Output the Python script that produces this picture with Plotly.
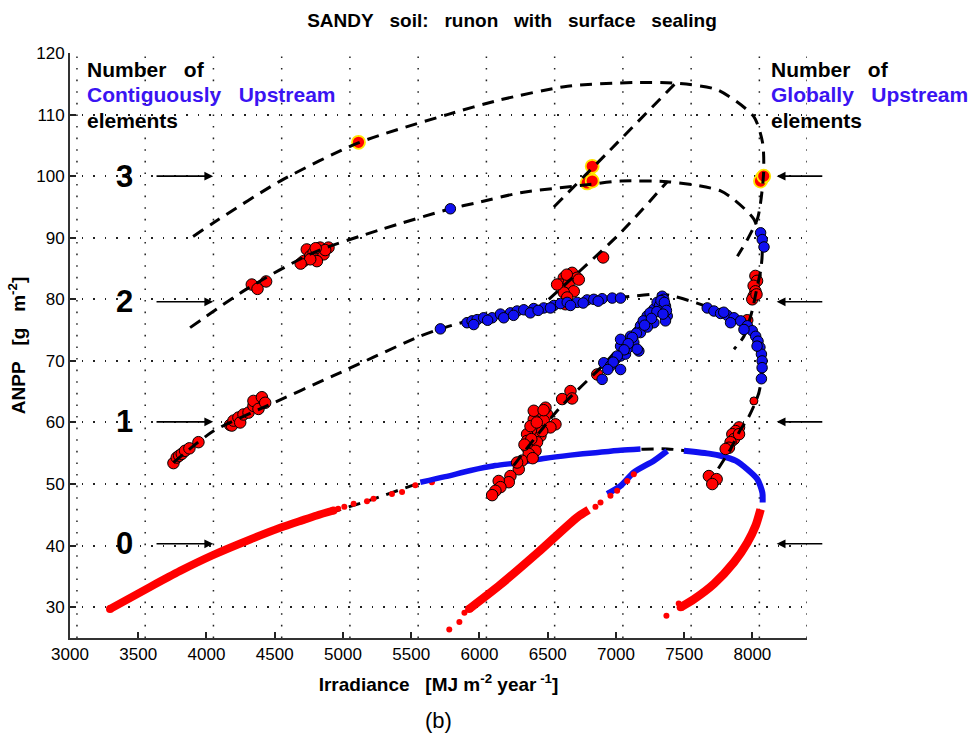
import plotly.graph_objects as go

# ---------------- data ----------------
# level-0 dense small-dot bands
band_left_x = [3293, 3587, 3807, 4051, 4320, 4540, 4700, 4809, 4931]
band_left_y = [29.7, 33.3, 35.9, 38.5, 41.0, 42.9, 44.1, 44.9, 45.7]
sparse_red_x = [4965, 5010, 5078, 5176, 5224, 5359, 5433, 5530, 5652]
sparse_red_y = [46.0, 46.3, 46.8, 47.2, 47.6, 48.4, 48.7, 49.8, 50.3]
arch_left_x = [5567, 5750, 5934, 6117, 6300, 6484, 6667, 6850, 7034, 7180]
arch_left_y = [50.3, 51.2, 52.2, 53.0, 53.5, 54.2, 54.7, 55.1, 55.5, 55.7]
arch_right_x = [7498, 7694, 7767, 7877, 7962, 8036, 8073, 8075]
arch_right_y = [55.4, 54.9, 54.6, 53.8, 52.4, 50.8, 48.6, 47.0]
band_right_x = [8060, 8023, 7963, 7865, 7718, 7571, 7474]
band_right_y = [45.9, 43.2, 40.5, 37.3, 33.8, 31.3, 30.0]
band_mid_x = [5924, 6150, 6429, 6716, 6800]
band_mid_y = [29.7, 33.6, 38.9, 44.6, 45.8]
mid_blue_x = [6936, 7034, 7131, 7278, 7376]
mid_blue_y = [48.4, 49.7, 51.9, 53.8, 55.4]
mid_red_dots_x = [6850, 6887, 6960, 7009, 7083, 7131]
mid_red_dots_y = [46.3, 47.0, 48.1, 48.9, 50.5, 51.6]
lone_red_x = [5779, 5853, 5890, 7370, 7460]
lone_red_y = [26.4, 27.6, 29.1, 28.6, 30.6]

# big red circles (black edge)
red_l2_left_x = [4332, 4374, 4437, 4711, 4735, 4760, 4785, 4809, 4833, 4858, 4894, 4809, 4760, 4870, 4800, 4690]
red_l2_left_y = [82.4, 81.7, 82.9, 86.2, 88.1, 87.0, 87.6, 86.8, 88.4, 87.3, 88.4, 86.2, 86.5, 88.0, 88.3, 85.8]
red_l2_mid_x = [6618, 6679, 6594, 6655, 6716, 6691, 6618, 6643, 6630, 6728, 6569, 6640, 6906]
red_l2_mid_y = [83.5, 84.3, 82.4, 82.7, 83.5, 81.3, 81.1, 80.3, 79.2, 83.2, 82.4, 84.0, 86.8]
red_l2_right_x = [8022, 8034, 8009, 8022, 8009, 7999, 8030, 7962]
red_l2_right_y = [83.8, 83.0, 82.2, 81.3, 80.5, 80.0, 80.8, 76.6]
red_l1_left_x = [3758, 3782, 3800, 3819, 3843, 3875, 3941, 4173, 4186, 4198, 4234, 4247, 4271, 4308, 4344, 4344, 4381, 4406, 4430]
red_l1_left_y = [53.4, 54.3, 54.6, 54.9, 55.4, 55.8, 56.8, 59.6, 59.5, 60.3, 60.8, 60.0, 61.3, 61.6, 62.7, 63.5, 62.2, 64.1, 63.2]
red_l1_mid_x = [6434, 6496, 6398, 6471, 6557, 6411, 6520, 6349, 6447, 6349, 6422, 6349, 6411, 6361, 6312, 6288, 6227,
                6215, 6141, 6154, 6117, 6093, 6484, 6398, 6374, 6276, 6606, 6667, 6679, 6863,
                6380, 6460, 6330, 6420, 6390, 6470]
red_l1_mid_y = [61.3, 61.3, 60.5, 60.3, 59.7, 58.9, 59.2, 58.1, 57.8, 57.0, 56.8, 55.9, 55.4, 54.9, 53.8, 52.4, 51.3,
                50.3, 50.5, 49.5, 48.9, 48.2, 62.4, 61.9, 59.4, 53.5, 63.8, 65.1, 63.9, 67.8,
                57.3, 58.6, 56.4, 60.0, 54.2, 62.0]
red_l1_right_x = [7902, 7877, 7853, 7865, 7840, 7828, 7804, 7902, 7681, 7738, 7706]
red_l1_right_y = [59.2, 58.6, 58.1, 57.3, 56.8, 55.9, 55.7, 58.1, 51.3, 50.8, 50.0]
red_small_x = [8011]
red_small_y = [63.5]

# red circles with yellow edge
yel_x = [5114, 6826, 6814, 6789, 6826, 8071, 8059, 8083]
yel_y = [105.5, 101.6, 99.5, 98.9, 99.2, 99.7, 99.2, 100.0]

# big blue circles (black edge)
blue_l2_x = [5787, 8060, 8072, 8085]
blue_l2_y = [94.7, 90.8, 89.7, 88.5]
blue_l1_arch_x = [5714, 5909, 5946, 5983, 6031, 6093, 6154, 6227, 6276, 6325, 6398, 6471, 6545, 6594, 6643, 6716,
                  6789, 6838, 6899, 6973, 7034, 5958, 6178, 6373, 6667, 6060, 6250, 6430, 6520, 6760, 6870]
blue_l1_arch_y = [75.2, 76.2, 76.5, 76.7, 77.0, 77.0, 77.6, 77.8, 78.1, 78.3, 78.5, 78.6, 79.0, 79.3, 79.5, 79.5,
                  79.9, 80.0, 80.1, 80.2, 80.2, 75.9, 77.0, 77.8, 79.0, 76.6, 77.4, 78.2, 78.6, 79.4, 79.7]
blue_l1_mid_x = [6899, 6911, 6960, 7034, 6997, 7034, 7070, 7058, 7107, 7168, 7034, 7107, 7180, 7229, 7278, 7302,
                 7339, 7363, 7376, 7363, 7278, 7180, 7131, 7034, 7083, 7230, 7320, 7350, 7156,
                 7200, 7250, 7300, 7330, 7355, 7370, 7345, 7260, 7210, 7150, 7120, 7090, 7060, 7010, 6980, 6940]
blue_l1_mid_y = [67.0, 69.7, 69.2, 68.6, 70.3, 70.8, 71.1, 72.4, 73.0, 71.6, 72.4, 74.0, 75.7, 77.3, 78.4, 79.5,
                 80.5, 78.9, 77.3, 76.5, 76.2, 74.6, 73.0, 73.5, 72.0, 75.5, 79.0, 80.0, 71.9,
                 76.5, 77.8, 78.0, 79.8, 79.5, 78.2, 77.6, 76.9, 75.8, 74.5, 73.8, 72.8, 71.8, 70.8, 69.8, 68.6]
blue_l1_right_x = [7669, 7718, 7767, 7816, 7865, 7914, 7963, 7999, 8024, 8041, 8055, 8066, 8071, 8071, 8066,
                   7840, 7938, 8034, 7790]
blue_l1_right_y = [78.6, 78.1, 77.7, 77.4, 77.0, 76.5, 75.7, 74.9, 74.0, 73.2, 72.2, 71.1, 70.0, 68.9, 67.1,
                   76.2, 75.1, 72.4, 77.9]

# dashed fitted curves
l0_x = [4900, 5200, 5543, 5934, 6300, 6667, 7034, 7376, 7700]
l0_y = [45.3, 47.4, 50.0, 52.2, 53.5, 54.7, 55.5, 55.7, 54.9]
l1_x = [3758, 4051, 4443, 4931, 5543, 5714, 6056, 6545, 7034, 7351, 7669, 7865, 8011, 8059, 8071, 8048, 8011,
        7963, 7914, 7840, 7750]
l1_y = [53.5, 58.6, 62.7, 67.6, 73.8, 75.2, 77.3, 79.2, 80.3, 80.8, 78.8, 76.7, 74.0, 71.4, 68.1, 64.9, 62.7,
        60.5, 58.9, 55.7, 52.5]
l1_mid_x = [6250, 6581, 6936, 7351]
l1_mid_y = [53.0, 62.2, 70.0, 80.8]
l2_x = [3880, 4296, 4785, 5274, 5787, 5983, 6300, 6789, 7034, 7376, 7620, 7767, 7865, 8011, 8071, 8062, 8030,
        8000, 7938, 7865]
l2_y = [75.4, 81.7, 87.6, 91.3, 94.7, 95.7, 97.3, 98.6, 99.2, 99.1, 98.4, 97.6, 96.2, 93.0, 88.1, 84.9, 81.5,
        78.3, 74.0, 71.9]
l2_mid_x = [6508, 7034, 7376]
l2_mid_y = [80.0, 90.8, 99.1]
l3_x = [3902, 4049, 4540, 5112, 5765, 6154, 6645, 7129, 7437, 7745, 8009, 8075, 8082, 8040, 7963, 7890]
l3_y = [90.2, 92.4, 99.2, 105.4, 110.0, 112.4, 114.6, 115.2, 115.1, 114.0, 109.7, 105.4, 100.5, 93.3, 89.7, 87.0]
l3_mid_x = [6545, 6960, 7437]
l3_mid_y = [95.0, 104.3, 115.1]

level_labels = ["3", "2", "1", "0"]
level_y = [100.0, 79.6, 60.1, 40.3]

x_ticks = [3000, 3500, 4000, 4500, 5000, 5500, 6000, 6500, 7000, 7500, 8000]
y_ticks = [30, 40, 50, 60, 70, 80, 90, 100, 110, 120]

# ---------------- figure ----------------
RED = "#ff0000"
BLUE = "#1010f0"
TXT_BLUE = "#3a14f2"
FONT = "Liberation Sans, Arial, sans-serif"
DASH = dict(color="black", width=3, dash="12px,8px")
GRID = "#222"
GDASH = "1.6px,10px"
GRID_SHIFT = 51  # vertical grid drawn slightly right of the ticks, as in the original export

fig = go.Figure()

def line(x, y, color, width, dash=None, shape="spline"):
    d = dict(color=color, width=width)
    if dash:
        d = dict(dash)
    fig.add_trace(go.Scatter(x=x, y=y, mode="lines", line=dict(**d, shape=shape, smoothing=0.7),
                             hoverinfo="skip", showlegend=False))

def dots(x, y, color, size, edge=None, edgew=1.0):
    mk = dict(color=color, size=size)
    if edge:
        mk["line"] = dict(color=edge, width=edgew)
    else:
        mk["line"] = dict(width=0)
    fig.add_trace(go.Scatter(x=x, y=y, mode="markers", marker=mk, showlegend=False, hoverinfo="skip"))

# level 0 dashed under the dots
line(l0_x, l0_y, "black", 3, dash=DASH)

# level-0 small dots
line(band_left_x, band_left_y, RED, 8)
dots(band_left_x[:1] + band_left_x[-1:], band_left_y[:1] + band_left_y[-1:], RED, 8)
dots(sparse_red_x, sparse_red_y, RED, 6)
line(arch_left_x, arch_left_y, BLUE, 5.5)
line(arch_right_x, arch_right_y, BLUE, 6)
line(band_right_x, band_right_y, RED, 8.5)
dots(band_right_x[-1:], band_right_y[-1:], RED, 8)
line(band_mid_x, band_mid_y, RED, 8.5)
dots(band_mid_x[:1], band_mid_y[:1], RED, 8)
line(mid_blue_x, mid_blue_y, BLUE, 6)
dots(mid_red_dots_x, mid_red_dots_y, RED, 6)
dots(lone_red_x, lone_red_y, RED, 6)

# big red circles
dots(red_l2_left_x + red_l2_mid_x + red_l2_right_x + red_l1_left_x + red_l1_mid_x + red_l1_right_x,
     red_l2_left_y + red_l2_mid_y + red_l2_right_y + red_l1_left_y + red_l1_mid_y + red_l1_right_y,
     RED, 11.5, edge="black", edgew=1)
dots(red_small_x, red_small_y, RED, 8, edge="black", edgew=1)
dots(yel_x, yel_y, RED, 13, edge="#ffe600", edgew=1.8)

# dashed curves
for xs, ys in [(l1_x, l1_y), (l1_mid_x, l1_mid_y), (l2_x, l2_y), (l2_mid_x, l2_mid_y),
               (l3_x, l3_y), (l3_mid_x, l3_mid_y)]:
    line(xs, ys, "black", 3, dash=DASH)

# blue circles on top
dots(blue_l2_x + blue_l1_arch_x + blue_l1_mid_x + blue_l1_right_x,
     blue_l2_y + blue_l1_arch_y + blue_l1_mid_y + blue_l1_right_y,
     BLUE, 10.5, edge="black", edgew=1)

# vertical dotted grid (shifted) and right-hand dotted frame edge
for v in x_ticks + [8400 - GRID_SHIFT]:
    fig.add_shape(type="line", xref="x", yref="y", x0=v + GRID_SHIFT, x1=v + GRID_SHIFT, y0=25, y1=120,
                  layer="below", line=dict(color=GRID, width=1.5, dash=GDASH))

ann = []
# level arrows and numbers
for lab, yy in zip(level_labels, level_y):
    ann.append(dict(x=4049, y=yy, ax=3623, ay=yy, xref="x", yref="y", axref="x", ayref="y",
                    showarrow=True, arrowhead=2, arrowsize=1.1, arrowwidth=1.6, arrowcolor="black", text=""))
    ann.append(dict(x=8178, y=yy, ax=8523, ay=yy, xref="x", yref="y", axref="x", ayref="y",
                    showarrow=True, arrowhead=2, arrowsize=1.1, arrowwidth=1.6, arrowcolor="black", text=""))
    ann.append(dict(x=3396, y=yy, xref="x", yref="y", text="<b>%s</b>" % lab, showarrow=False,
                    font=dict(family=FONT, size=31, color="black"), xanchor="center", yanchor="middle"))
    ann.append(dict(x=8662, y=yy, xref="x", yref="y", text="<b>%s</b>" % lab, showarrow=False,
                    font=dict(family=FONT, size=31, color="black"), xanchor="center", yanchor="middle"))

SP = "\u00a0\u00a0\u00a0"
def px2paper(px, py):
    return (px - 70) / 737.0, (638 - py) / 585.0

for x0, words in [(85, ["Number" + SP + "of", "Contiguously" + SP + "Upstream", "elements"]),
                  (769, ["Number" + SP + "of", "Globally" + SP + "Upstream", "elements"])]:
    for i, (w, py) in enumerate(zip(words, [69, 95, 120])):
        xp, yp = px2paper(x0, py)
        ann.append(dict(x=xp, y=yp, xref="paper", yref="paper", text="<b>%s</b>" % w, showarrow=False,
                        xanchor="left", yanchor="middle",
                        font=dict(family=FONT, size=21, color=TXT_BLUE if i == 1 else "black")))

xp, yp = px2paper(438, 720)
ann.append(dict(x=0.5, y=yp, xref="paper", yref="paper", text="(b)", showarrow=False,
                xanchor="center", yanchor="middle", font=dict(family=FONT, size=22, color="black")))

title_x, _ = px2paper(512, 0)
fig.update_layout(
    width=969, height=740,
    margin=dict(l=70, r=162, t=53, b=102),
    paper_bgcolor="white", plot_bgcolor="white",
    title=dict(text="<b>SANDY" + SP + "soil:" + SP + "runon" + SP + "with" + SP + "surface" + SP + "sealing</b>",
               x=title_x, xref="paper", y=1 - 20 / 740, yref="container", yanchor="middle", xanchor="center",
               font=dict(family=FONT, size=19, color="black")),
    annotations=ann,
    showlegend=False,
)
fig.update_xaxes(range=[3000, 8400], tickmode="array", tickvals=x_ticks, ticktext=[str(v) for v in x_ticks],
                 ticks="inside", ticklen=6, tickwidth=1.5, tickcolor="#222",
                 showline=True, linecolor="#333", linewidth=2,
                 showgrid=False,
                 zeroline=False, tickfont=dict(family=FONT, size=17, color="black"),
                 title=dict(text="<b>Irradiance" + SP + "[MJ m<sup>-2</sup> year<sup> -1</sup>]</b>",
                            font=dict(family=FONT, size=19, color="black"), standoff=14))
fig.update_yaxes(range=[25, 120], tickmode="array", tickvals=y_ticks, ticktext=[str(v) for v in y_ticks],
                 ticks="inside", ticklen=6, tickwidth=1.5, tickcolor="#222",
                 showline=True, linecolor="#333", linewidth=2,
                 showgrid=True, gridcolor=GRID, gridwidth=1.5, griddash=GDASH,
                 zeroline=False, tickfont=dict(family=FONT, size=17, color="black"),
                 title=dict(text="<b>ANPP" + SP + "[g" + SP + "m<sup>-2</sup>]</b>",
                            font=dict(family=FONT, size=19, color="black"), standoff=6))

fig.write_html("out.html")
